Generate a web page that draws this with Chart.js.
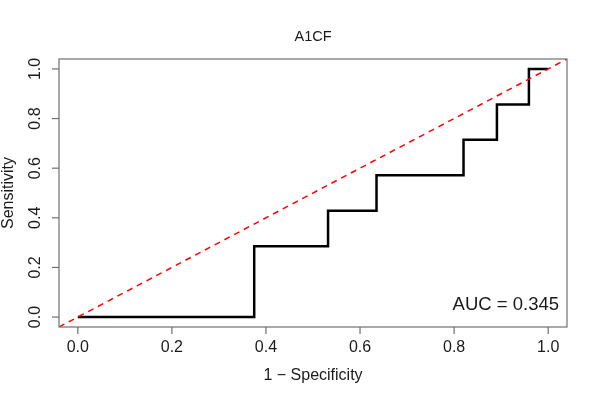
<!DOCTYPE html>
<html>
<head>
<meta charset="utf-8">
<script src="https://cdn.jsdelivr.net/npm/chart.js@4.4.0/dist/chart.umd.min.js"></script>
<style>
html,body{margin:0;padding:0;background:#fff;}
#wrap{width:600px;height:400px;position:relative;}
</style>
</head>
<body>
<div id="wrap"><canvas id="c" width="600" height="400"></canvas></div>
<script>
const chartTitle = "A1CF";
const xLabel = "1 \u2212 Specificity";
const yLabel = "Sensitivity";
const aucText = "AUC = 0.345";
const fprValues = [0, 0.375, 0.532, 0.635, 0.820, 0.891, 0.959, 1.0];
const sensValues = [0, 0.2857, 0.4286, 0.5714, 0.7143, 0.8571, 1.0, 1.0];
const diagX = [-0.04, 1.04];
const diagY = [-0.04, 1.04];
const xTicks = [0, 0.2, 0.4, 0.6, 0.8, 1.0];
const yTicks = [0, 0.2, 0.4, 0.6, 0.8, 1.0];
const xTickLabels = ["0.0", "0.2", "0.4", "0.6", "0.8", "1.0"];
const yTickLabels = ["0.0", "0.2", "0.4", "0.6", "0.8", "1.0"];

const FONT = '"Liberation Sans", Arial, Helvetica, sans-serif';

const rocPts = fprValues.map((x, i) => ({x: x, y: sensValues[i]}));
const diagPts = diagX.map((x, i) => ({x: x, y: diagY[i]}));

const rAxes = {
  id: 'rAxes',
  afterDraw(chart) {
    const ctx = chart.ctx;
    const a = chart.chartArea;
    const xs = chart.scales.x, ys = chart.scales.y;
    ctx.save();
    ctx.strokeStyle = '#707070';
    ctx.lineWidth = 1.2;
    ctx.strokeRect(a.left, a.top, a.right - a.left, a.bottom - a.top);
    ctx.fillStyle = '#1a1a1a';
    ctx.font = '16px ' + FONT;
    ctx.textAlign = 'center';
    ctx.textBaseline = 'middle';
    xTicks.forEach((v, i) => {
      const px = xs.getPixelForValue(v);
      ctx.beginPath();
      ctx.moveTo(px, a.bottom);
      ctx.lineTo(px, a.bottom + 7);
      ctx.stroke();
      ctx.fillText(xTickLabels[i], px, a.bottom + 21);
    });
    yTicks.forEach((v, i) => {
      const py = ys.getPixelForValue(v);
      ctx.beginPath();
      ctx.moveTo(a.left, py);
      ctx.lineTo(a.left - 7, py);
      ctx.stroke();
      ctx.save();
      ctx.translate(a.left - 23, py);
      ctx.rotate(-Math.PI / 2);
      ctx.fillText(yTickLabels[i], 0, 0);
      ctx.restore();
    });
    ctx.fillText(xLabel, (a.left + a.right) / 2, a.bottom + 49);
    ctx.save();
    ctx.translate(9, (a.top + a.bottom) / 2);
    ctx.rotate(-Math.PI / 2);
    ctx.fillText(yLabel, 0, 0);
    ctx.restore();
    ctx.font = '14.5px ' + FONT;
    ctx.fillText(chartTitle, (a.left + a.right) / 2, 37);
    ctx.font = '18.5px ' + FONT;
    ctx.textAlign = 'right';
    ctx.fillText(aucText, 559, 305);
    ctx.restore();
  }
};

new Chart(document.getElementById('c'), {
  type: 'scatter',
  data: {
    datasets: [
      {
        data: diagPts,
        showLine: true,
        borderColor: '#ff0000',
        borderWidth: 1.5,
        borderDash: [6, 5],
        pointRadius: 0,
        fill: false,
        order: 0
      },
      {
        data: rocPts,
        showLine: true,
        stepped: 'before',
        borderColor: '#000000',
        borderWidth: 2.5,
        pointRadius: 0,
        fill: false,
        order: 1
      }
    ]
  },
  options: {
    responsive: false,
    animation: false,
    devicePixelRatio: 1,
    layout: {padding: {left: 59, top: 59, right: 33, bottom: 73}},
    plugins: {legend: {display: false}, tooltip: {enabled: false}, title: {display: false}},
    scales: {
      x: {type: 'linear', min: -0.04, max: 1.04, display: false},
      y: {type: 'linear', min: -0.04, max: 1.04, display: false}
    }
  },
  plugins: [rAxes]
});
</script>
</body>
</html>
